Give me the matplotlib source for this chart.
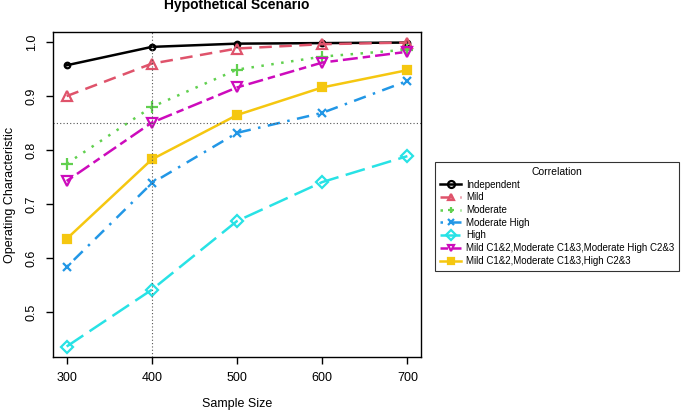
import matplotlib
matplotlib.use("Agg")
import matplotlib.pyplot as plt

plt.rcParams['font.family'] = ['Liberation Sans', 'DejaVu Sans']

sample_sizes = [300, 400, 500, 600, 700]
series_names = ["Independent", "Mild", "Moderate", "Moderate High", "High",
                "Mild C1&2,Moderate C1&3,Moderate High C2&3",
                "Mild C1&2,Moderate C1&3,High C2&3"]
independent = [0.957, 0.991, 0.997, 0.998, 0.999]
mild = [0.900, 0.960, 0.988, 0.996, 0.999]
moderate = [0.775, 0.880, 0.949, 0.973, 0.986]
moderate_high = [0.584, 0.739, 0.832, 0.869, 0.928]
high = [0.437, 0.542, 0.669, 0.741, 0.789]
mixed_mod_high = [0.743, 0.851, 0.916, 0.962, 0.982]
mixed_high = [0.636, 0.783, 0.865, 0.916, 0.948]
all_series = [independent, mild, moderate, moderate_high, high, mixed_mod_high, mixed_high]
y_ticks = [0.5, 0.6, 0.7, 0.8, 0.9, 1.0]
threshold = 0.85
ref_size = 400

colors = ["black", "#DF536B", "#61D04F", "#2297E6", "#28E2E5", "#CD0BBC", "#F5C710"]
dashes = [None, (5, 3), (1, 3), (1, 3, 5, 3), (8, 3), (3, 2, 6, 2), None]
markers = ["o", "^", "+", "x", "D", "v", "s"]
msizes = [4, 7, 8, 6, 6, 7, 6]
mfill = ["none", "none", "full", "full", "none", "none", "full"]

fig = plt.figure(figsize=(6.85, 4.12), dpi=100)
ax = fig.add_axes([0.0774, 0.1335, 0.6146 - 0.0774, 0.9223 - 0.1335])

handles = []
for vals, name, c, d, m, ms, mf in zip(all_series, series_names, colors, dashes, markers, msizes, mfill):
    kw = {}
    if d is not None:
        kw['dashes'] = d
    ln, = ax.plot(sample_sizes, vals, color=c, lw=1.8, marker=m, markersize=ms,
                  markerfacecolor=(c if mf == "full" else "none"), markeredgecolor=c,
                  markeredgewidth=1.6, label=name, **kw)
    handles.append(ln)

ax.axhline(threshold, color="#555555", lw=0.8, ls=(0, (1, 2)))
ax.axvline(ref_size, color="#555555", lw=0.8, ls=(0, (1, 2)))

ax.set_xlim(284, 716)
ax.set_ylim(0.4176, 1.0185)
ax.set_xticks(sample_sizes)
ax.set_yticks(y_ticks)
ax.set_yticklabels([f"{v:.1f}" for v in y_ticks], rotation=90, va='center')
ax.tick_params(direction='out', length=5, width=1, labelsize=9, colors='black', pad=6)
for s in ax.spines.values():
    s.set_linewidth(1.0)

ax.set_xlabel("Sample Size", fontsize=9, labelpad=10)
ax.set_ylabel("Operating Characteristic", fontsize=9, labelpad=7)
fig.text(0.346, 0.988, "Hypothetical Scenario", fontsize=10, fontweight='bold',
         ha='center', va='center')

leg = fig.legend(handles=handles, labels=series_names, title="Correlation",
                 loc='upper left', bbox_to_anchor=(435 / 685, 1 - 162 / 412),
                 fontsize=7, title_fontsize=7.5, frameon=True, fancybox=False,
                 edgecolor='black', handlelength=2.2, borderpad=0.5,
                 labelspacing=0.28, handletextpad=0.5, borderaxespad=0)
leg.get_frame().set_linewidth(0.8)
for h in leg.legend_handles:
    h.set_markersize(5)

fig.savefig("out.png", dpi=100)
